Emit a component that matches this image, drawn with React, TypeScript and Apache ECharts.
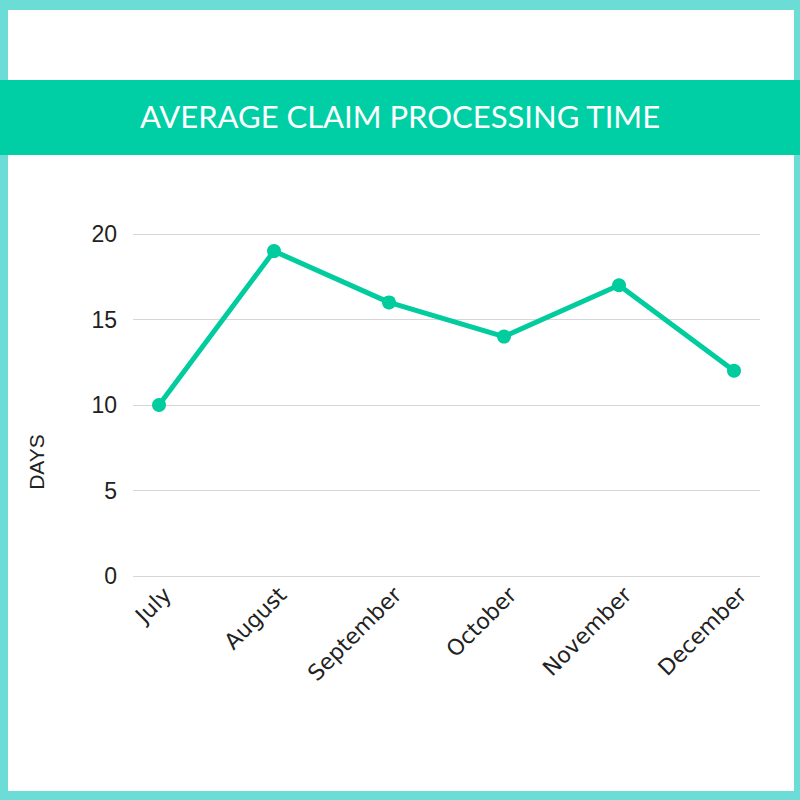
import React, { useEffect, useRef } from "react";
import * as echarts from "echarts";

// Monthly average claim processing time, in days
const months = ["July", "August", "September", "October", "November", "December"];
const avgDays = [10, 19, 16, 14, 17, 12];
const yTicks = { min: 0, max: 20, interval: 5 };

const TITLE = "AVERAGE CLAIM PROCESSING TIME";
const Y_NAME = "DAYS";

const BORDER = "#6cdcd6";
const BANNER = "#00cfa5";
const LINE = "#00cc9e";
const INK = "#222222";

export default function App() {
  const ref = useRef<HTMLDivElement>(null);

  useEffect(() => {
    document.body.style.margin = "0";
    const chart = echarts.init(ref.current!, null, { renderer: "svg" });

    chart.setOption({
      animation: false,
      backgroundColor: "#ffffff",
      graphic: [
        // outer frame
        { type: "rect", shape: { x: 0, y: 0, width: 800, height: 10 }, style: { fill: BORDER }, z: -1 },
        { type: "rect", shape: { x: 0, y: 791, width: 800, height: 9 }, style: { fill: BORDER }, z: -1 },
        { type: "rect", shape: { x: 0, y: 0, width: 8, height: 800 }, style: { fill: BORDER }, z: -1 },
        { type: "rect", shape: { x: 794, y: 0, width: 6, height: 800 }, style: { fill: BORDER }, z: -1 },
        // title banner
        { type: "rect", shape: { x: 0, y: 80, width: 800, height: 75 }, style: { fill: BANNER }, z: 0 },
        {
          type: "text",
          x: 400,
          y: 116,
          z: 1,
          style: {
            text: TITLE,
            fill: "#ffffff",
            font: "31px Lato",
            align: "center",
            verticalAlign: "middle",
          },
        },
        {
          type: "text",
          x: 36,
          y: 462,
          rotation: Math.PI / 2,
          style: {
            text: Y_NAME,
            fill: INK,
            font: "21px 'Liberation Sans'",
            align: "center",
            verticalAlign: "middle",
          },
        },
      ],
      grid: [
        { left: 133, right: 40, top: 234, bottom: 224 },
        { left: 101.5, right: 8.5, top: 234, bottom: 224 },
        // month labels sit slightly right of each point
        { left: 110, right: 0, top: 234, bottom: 224 },
      ],
      xAxis: [
        { gridIndex: 0, type: "category", data: months, show: false },
        { gridIndex: 1, type: "category", data: months, boundaryGap: true, show: false },
        {
          gridIndex: 2,
          type: "category",
          data: months,
          boundaryGap: true,
          axisLine: { show: false },
          axisTick: { show: false },
          axisLabel: {
            rotate: 45,
            margin: 15,
            color: INK,
            fontFamily: "DejaVu Sans",
            fontSize: 22,
            interval: 0,
          },
        },
      ],
      yAxis: [
        {
          gridIndex: 0,
          type: "value",
          ...yTicks,
          axisLine: { show: false },
          axisTick: { show: false },
          axisLabel: { color: INK, fontFamily: "Liberation Sans", fontSize: 23, margin: 16 },
          splitLine: { lineStyle: { color: "#d6d6d6", width: 1 } },
        },
        { gridIndex: 1, type: "value", ...yTicks, show: false, splitLine: { show: false } },
        { gridIndex: 2, type: "value", ...yTicks, show: false, splitLine: { show: false } },
      ],
      series: [
        {
          type: "line",
          xAxisIndex: 1,
          yAxisIndex: 1,
          data: avgDays,
          symbol: "circle",
          symbolSize: 14,
          lineStyle: { color: LINE, width: 5 },
          itemStyle: { color: LINE },
        },
      ],
    });

    return () => chart.dispose();
  }, []);

  return <div ref={ref} style={{ width: 800, height: 800 }} />;
}
